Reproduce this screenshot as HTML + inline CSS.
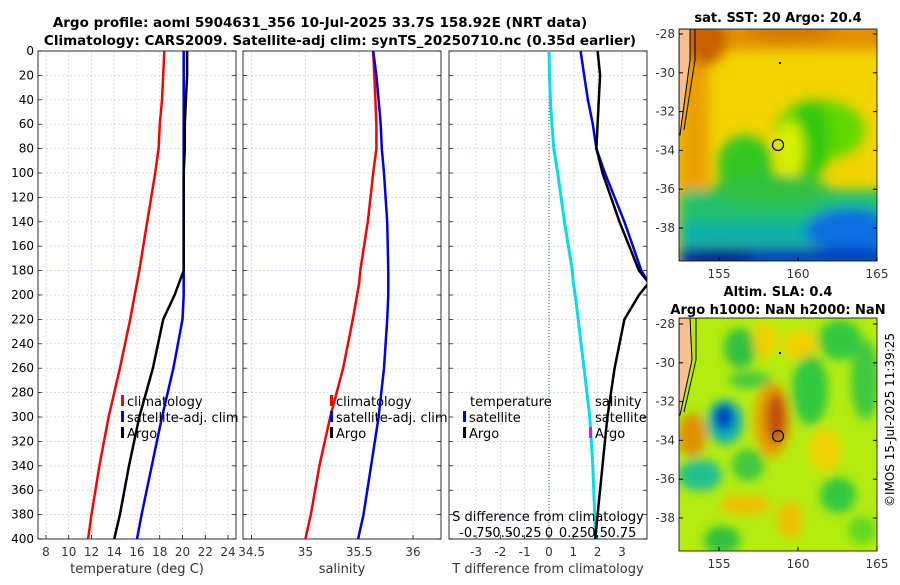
<!DOCTYPE html>
<html><head><meta charset="utf-8">
<style>
body{margin:0;background:#fff;font-family:"Liberation Sans",sans-serif;}
svg text{font-family:"DejaVu Sans","Liberation Sans",sans-serif;}
</style></head>
<body>
<svg id="c" width="900" height="580" xmlns="http://www.w3.org/2000/svg">
<defs>
<filter id="bl" x="-50%" y="-50%" width="200%" height="200%"><feGaussianBlur stdDeviation="6"/></filter>
<filter id="bl2" x="-50%" y="-50%" width="200%" height="200%"><feGaussianBlur stdDeviation="5"/></filter>
<clipPath id="m1c"><rect x="679" y="29" width="198" height="232"/></clipPath>
<clipPath id="m2c"><rect x="679" y="318" width="198" height="233"/></clipPath>
<clipPath id="p3c"><rect x="449" y="51" width="198" height="488"/></clipPath>
</defs>
<text x="320" y="27" text-anchor="middle" font-size="13.5" font-weight="bold">Argo profile: aoml 5904631_356 10-Jul-2025 33.7S 158.92E (NRT data)</text>
<text x="340" y="45" text-anchor="middle" font-size="13.5" font-weight="bold">Climatology: CARS2009. Satellite-adj clim: synTS_20250710.nc (0.35d earlier)</text>
<g id="panels"></g>
<!-- map 1 -->
<g clip-path="url(#m1c)">
<rect x="679" y="29" width="198" height="232" fill="#f2d400"/>
<g filter="url(#bl)">
<rect x="679" y="20" width="210" height="30" fill="#e49000"/>
<rect x="679" y="20" width="30" height="170" fill="#eaa000"/>
<ellipse cx="705" cy="40" rx="22" ry="25" fill="#c86000"/>
<ellipse cx="790" cy="30" rx="45" ry="10" fill="#d07800"/>
<ellipse cx="820" cy="130" rx="45" ry="30" fill="#60d800"/>
<ellipse cx="810" cy="140" rx="20" ry="40" fill="#30c810"/>
<ellipse cx="745" cy="165" rx="28" ry="30" fill="#30c820"/>
<ellipse cx="790" cy="150" rx="14" ry="30" fill="#d8f000"/>
<rect x="679" y="190" width="210" height="35" fill="#20c070"/>
<ellipse cx="770" cy="190" rx="60" ry="15" fill="#30c040"/>
<rect x="679" y="222" width="210" height="25" fill="#10b0a8"/>
<ellipse cx="850" cy="230" rx="45" ry="22" fill="#1070e0"/>
<rect x="679" y="248" width="210" height="20" fill="#0040c0"/>
<ellipse cx="720" cy="258" rx="35" ry="9" fill="#001890"/>
</g>
<path d="M679,29 L690,29 L690,60 L680,135 L679,135Z" fill="#f8c090" stroke="#000" stroke-width="1"/>
<path d="M695,29 L695,60 L684,130" fill="none" stroke="#000" stroke-width="1"/>
<circle cx="778" cy="145" r="5.5" fill="none" stroke="#000" stroke-width="1.2"/>
<rect x="779" y="62" width="2" height="2" fill="#000"/>
</g>
<rect x="679" y="29" width="198" height="232" fill="none" stroke="#000" stroke-width="0.8"/>
<text x="778" y="22" text-anchor="middle" font-size="13" font-weight="bold">sat. SST: 20 Argo: 20.4</text>
<!-- map 2 -->
<g clip-path="url(#m2c)">
<rect x="679" y="318" width="198" height="233" fill="#b4ec10"/>
<g filter="url(#bl2)">
<ellipse cx="740" cy="348" rx="16" ry="20" fill="#30c040"/>
<ellipse cx="765" cy="340" rx="12" ry="18" fill="#f0d000"/>
<ellipse cx="800" cy="345" rx="18" ry="16" fill="#f0d000"/>
<ellipse cx="840" cy="340" rx="22" ry="20" fill="#30c840"/>
<ellipse cx="810" cy="390" rx="18" ry="35" fill="#30c840"/>
<ellipse cx="865" cy="380" rx="14" ry="40" fill="#40c840"/>
<ellipse cx="750" cy="380" rx="22" ry="8" fill="#40c840"/>
<ellipse cx="725" cy="422" rx="18" ry="22" fill="#10b0b0"/>
<ellipse cx="724" cy="417" rx="9" ry="13" fill="#0030c0"/>
<ellipse cx="772" cy="420" rx="18" ry="38" fill="#e8a000"/>
<ellipse cx="776" cy="418" rx="10" ry="26" fill="#c05010"/>
<ellipse cx="692" cy="435" rx="14" ry="22" fill="#e09000"/>
<ellipse cx="700" cy="475" rx="22" ry="16" fill="#20c090"/>
<ellipse cx="748" cy="465" rx="16" ry="16" fill="#40c840"/>
<ellipse cx="825" cy="450" rx="16" ry="22" fill="#f0d000"/>
<ellipse cx="838" cy="495" rx="18" ry="18" fill="#30c840"/>
<ellipse cx="745" cy="505" rx="25" ry="10" fill="#f0c000"/>
<ellipse cx="722" cy="540" rx="18" ry="14" fill="#30c040"/>
<ellipse cx="790" cy="520" rx="13" ry="18" fill="#f0c000"/>
<ellipse cx="862" cy="530" rx="14" ry="14" fill="#60d820"/>
</g>
<path d="M679,318 L690,318 L692,360 L680,415 L679,415Z" fill="#f8c090" stroke="#000" stroke-width="1"/>
<path d="M696,318 L696,360 L684,412" fill="none" stroke="#000" stroke-width="1"/>
<circle cx="778" cy="436" r="5.5" fill="none" stroke="#000" stroke-width="1.2"/>
<rect x="779" y="352" width="2" height="2" fill="#000"/>
</g>
<rect x="679" y="318" width="198" height="233" fill="none" stroke="#000" stroke-width="0.8"/>
<text x="778" y="296" text-anchor="middle" font-size="13" font-weight="bold">Altim. SLA: 0.4</text>
<text x="778" y="314" text-anchor="middle" font-size="13" font-weight="bold">Argo h1000: NaN h2000: NaN</text>
<text transform="translate(894,420) rotate(-90)" text-anchor="middle" font-size="12">©IMOS 15-Jul-2025 11:39:25</text>
<g id="maxes"></g>
</svg>
<script>
// depth levels (m)
const depths=[0,20,40,60,80,100,140,180,190,200,220,260,300,340,380,400];
const tClim=[18.4,18.3,18.2,18.0,17.9,17.6,16.9,16.2,16.0,15.8,15.4,14.5,13.5,12.7,12.0,11.7];
const tSat=[20.1,20.1,20.1,20.1,20.1,20.1,20.1,20.1,20.1,20.1,20.0,19.2,18.2,17.3,16.4,16.0];
const tArgo=[20.4,20.4,20.3,20.2,20.2,20.1,20.1,20.1,19.7,19.3,18.3,17.4,16.2,15.3,14.5,14.0];
const sClim=[35.63,35.64,35.65,35.66,35.66,35.63,35.58,35.51,35.50,35.48,35.44,35.35,35.23,35.13,35.05,35.0];
const sSat=[35.63,35.66,35.68,35.70,35.71,35.73,35.76,35.77,35.77,35.77,35.76,35.73,35.68,35.61,35.54,35.49];
const dSatS=[0,0.005,0.015,0.03,0.05,0.09,0.16,0.24,0.25,0.27,0.3,0.36,0.42,0.45,0.47,0.48];
const dSatT=[1.3,1.45,1.6,1.8,1.95,2.3,3.1,3.8,4.1,4.3,4.6,5.0,5.2,5.0,4.5,4.3];
const dArgoT=[2.0,2.1,2.05,2.0,1.95,2.2,2.9,3.7,4.1,3.7,3.1,2.7,2.4,2.2,2.0,1.9];
const tTicks=[8,10,12,14,16,18,20,22,24];
const sTicks=[34.5,35,35.5,36];
const dTicks=[-3,-2,-1,0,1,2,3];
const sDiffTicks=["-0.75","-0.5","-0.25","0","0.25","0.5","0.75"];
const yTicks=[0,20,40,60,80,100,120,140,160,180,200,220,240,260,280,300,320,340,360,380,400];

const NS="http://www.w3.org/2000/svg";
const root=document.getElementById('panels');
function mk(tag,attrs,parent){const e=document.createElementNS(NS,tag);for(const k in attrs)e.setAttribute(k,attrs[k]);(parent||root).appendChild(e);return e;}
const Y0=51,Y1=539;
const y=d=>Y0+(d/400)*(Y1-Y0);
const panels=[
 {x0:38,x1:236,lo:7.3,hi:24.7,ticks:tTicks,label:"temperature (deg C)"},
 {x0:243,x1:441,lo:34.42,hi:36.26,ticks:sTicks,label:"salinity"},
 {x0:449,x1:647,lo:-4.11,hi:4.03,ticks:dTicks,label:"T difference from climatology"}];
panels.forEach((p,i)=>{
 p.x=v=>p.x0+(v-p.lo)/(p.hi-p.lo)*(p.x1-p.x0);
 const g=mk('g',{});
 
 
 yTicks.forEach(d=>{mk('line',{x1:p.x0,x2:p.x1,y1:y(d),y2:y(d),stroke:'#c8d0ec','stroke-width':0.7,'stroke-dasharray':'2,2'},g);
  mk('line',{x1:p.x0,x2:p.x0+4,y1:y(d),y2:y(d),stroke:'#000','stroke-width':0.7},g);
  mk('line',{x1:p.x1,x2:p.x1-4,y1:y(d),y2:y(d),stroke:'#000','stroke-width':0.7},g);
  if(i===0){const t=mk('text',{x:p.x0-4,y:y(d)+4,'text-anchor':'end','font-size':12},g);t.textContent=d;}
 });
 p.ticks.forEach(v=>{mk('line',{x1:p.x(v),x2:p.x(v),y1:Y0,y2:Y1,stroke:'#c8d0ec','stroke-width':0.7,'stroke-dasharray':'2,2'},g);
  mk('line',{x1:p.x(v),x2:p.x(v),y1:Y1,y2:Y1-4,stroke:'#000','stroke-width':0.7},g);
  const t=mk('text',{x:p.x(v),y:Y1+17,'text-anchor':'middle','font-size':12,fill:'#333'},g);t.textContent=v;
  
  
 });
 const xl=mk('text',{x:(p.x0+p.x1)/2,y:573,'text-anchor':'middle','font-size':13,fill:'#333'},g);xl.textContent=p.label;
 
 
 mk('rect',{x:p.x0,y:Y0,width:p.x1-p.x0,height:Y1-Y0,fill:'none',stroke:'#000','stroke-width':0.8},g);
});
function line(p,vals,color,w,name,clip){
 const pts=vals.map((v,i)=>p.x(v).toFixed(1)+','+y(depths[i]).toFixed(1)).join(' ');
 const a={points:pts,fill:'none',stroke:color,'stroke-width':w,'stroke-linejoin':'round'};
 if(clip)a['clip-path']='url(#p3c)';
 const e=mk('polyline',a);
 
 
}
line(panels[0],tClim,'#ff0000',2.5,'temperature-climatology-line');
line(panels[0],tSat,'#0000ee',2.5,'temperature-satellite-line');
line(panels[0],tArgo,'#000',2.5,'temperature-argo-line');
line(panels[1],sClim,'#ff0000',2.5,'salinity-climatology-line');
line(panels[1],sSat,'#0000ee',2.5,'salinity-satellite-line');
const p3=panels[2];
const sToT=s=>s*4; // S axis: 0.25 S per 1 T unit
mk('line',{x1:p3.x(0),x2:p3.x(0),y1:Y0,y2:Y1,stroke:'#2a6a2a','stroke-width':1,'stroke-dasharray':'1,2'});
line(p3,dSatS.map(sToT),'#00e0e8',3,'salinity-diff-satellite-line',true);
line(p3,dSatT,'#0000ee',2.5,'temperature-diff-satellite-line',true);
line(p3,dArgoT,'#000',2.5,'temperature-diff-argo-line',true);
const sl=mk('text',{x:548,y:521,'text-anchor':'middle','font-size':13});sl.textContent='S difference from climatology';


sDiffTicks.forEach((s,i)=>{const t=mk('text',{x:p3.x(dTicks[i]),y:537,'text-anchor':'middle','font-size':13});t.textContent=s;
 
 });
function leg(x,yy,color,label,name){
 if(color)mk('rect',{x:x,y:yy-11,width:3,height:11,fill:color});
 const t=mk('text',{x:x+(color?6:0),y:yy,'font-size':13});t.textContent=label;
 
 
}
leg(121,406,'#ff0000','climatology','legend-climatology');
leg(121,422,'#0000ee','satellite-adj. clim','legend-satellite');
leg(121,438,'#000','Argo','legend-argo');
leg(330,406,'#ff0000','climatology','legend-s-climatology');
leg(330,422,'#0000ee','satellite-adj. clim','legend-s-satellite');
leg(330,438,'#000','Argo','legend-s-argo');
leg(470,406,null,'temperature','legend-temperature-header');
leg(463,422,'#0000ee','satellite','legend-t-satellite');
leg(463,438,'#000','Argo','legend-t-argo');
leg(595,406,null,'salinity','legend-salinity-header');
leg(595,422,null,'satellite','legend-s-sat');
leg(589,438,'#ff00ff','Argo','legend-s-diff-argo');
const mg=document.getElementById('maxes');
const lonTicks=[155,160,165];
const latTicks=[-28,-30,-32,-34,-36,-38];
function mapAxes(top,bottom,lat28y){
 lonTicks.forEach(l=>{const xx=719+(l-155)*15.8;
  mk('line',{x1:xx,x2:xx,y1:bottom,y2:bottom-4,stroke:'#000'},mg);
  const t=mk('text',{x:xx,y:bottom+17,'text-anchor':'middle','font-size':12,fill:'#333'},mg);t.textContent=l;});
 latTicks.forEach(l=>{const yy=lat28y+(-28-l)*19.4;
  mk('line',{x1:679,x2:683,y1:yy,y2:yy,stroke:'#000'},mg);
  mk('line',{x1:877,x2:873,y1:yy,y2:yy,stroke:'#000'},mg);
  const t=mk('text',{x:675,y:yy+4,'text-anchor':'end','font-size':12,fill:'#333'},mg);t.textContent=l;});
}
mapAxes(29,261,34);
mapAxes(318,551,324);
</script>
</body></html>
